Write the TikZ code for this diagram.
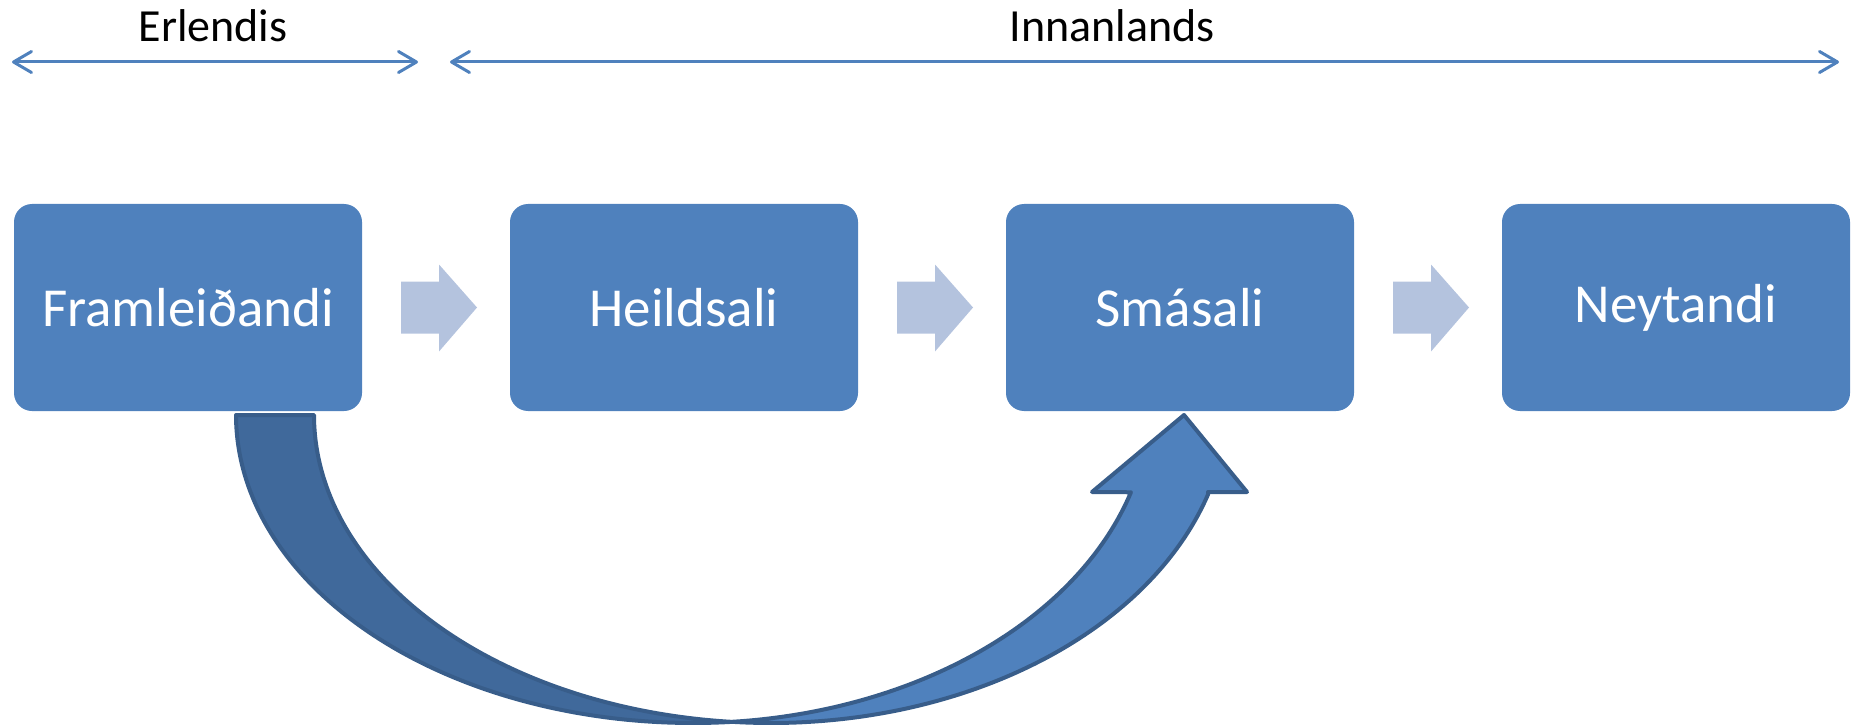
\documentclass[tikz,border=0pt]{standalone}
\usepackage{fontspec}
\setmainfont{Carlito}
\usetikzlibrary{arrows.meta,calc}
\definecolor{boxblue}{HTML}{4F81BD}
\definecolor{chevblue}{HTML}{B4C3DE}
\definecolor{darkblue}{HTML}{40699B}
\definecolor{edgeblue}{HTML}{385D8A}
\tikzset{
  stagebox/.style={rectangle, rounded corners=18pt, fill=boxblue, text=white,
    minimum width=348pt, minimum height=207pt, inner sep=0pt,
    font=\fontsize{55}{66}\selectfont},
  toplabel/.style={anchor=base, text=black, inner sep=0pt,
    font=\fontsize{46}{55}\selectfont},
  spanarrow/.style={draw=boxblue, line width=3pt,
    {Straight Barb[length=18pt,width=21pt,round]}-{Straight Barb[length=18pt,width=21pt,round]}},
  chev/.style={fill=chevblue},
  curvebody/.style={draw=edgeblue, line width=4pt, line join=round},
}
\begin{document}
\begin{tikzpicture}[x=1pt,y=-1pt]
\useasboundingbox (0,0) rectangle (1851,727);
% top span arrows and labels
\coordinate (e1) at (12,62);
\coordinate (e2) at (418,62);
\coordinate (i1) at (450,62);
\coordinate (i2) at (1839,62);
\draw[spanarrow] (e1) -- (e2);
\draw[spanarrow] (i1) -- (i2);
\node[toplabel] (erl) at (213,42) {Erlendis};
\node[toplabel] (inn) at (1112,42) {Innanlands};
% stage boxes
\node[stagebox] (b1) at (188,307.5) {Framleiðandi};
\node[stagebox] (b2) at (684,307.5) {Heildsali};
\node[stagebox] (b3) at (1180,307.5) {Smásali};
\node[stagebox] (b4) at (1676,307.5) {Neytandi};
% chevrons between boxes
\foreach \a/\b/\m in {b1/b2/m1, b2/b3/m2, b3/b4/m3}{
  \coordinate (\m) at ($(\a.east)!0.5!(\b.west)+(3,0)$);
  \fill[chev] ([shift={(-38,-26)}]\m) -- ([shift={(0,-26)}]\m) -- ([shift={(0,-43)}]\m)
    -- ([shift={(38,0)}]\m) -- ([shift={(0,44)}]\m) -- ([shift={(0,26)}]\m)
    -- ([shift={(-38,26)}]\m) -- cycle;
}
% curved up arrow: dark back band
\filldraw[curvebody, fill=darkblue]
  plot[domain=180:85.1, samples=90, smooth] ({693+457*cos(\x)},{415+308*sin(\x)})
  -- plot[domain=94.9:180, samples=90, smooth] ({771+457*cos(\x)},{415+308*sin(\x)})
  -- cycle;
% curved up arrow: front band with head
\filldraw[curvebody, fill=boxblue]
  plot[domain=85.1:16.6, samples=90, smooth] ({693+457*cos(\x)},{400+323*sin(\x)})
  -- (1092,492) -- (1184,415) -- (1247,492) -- (1208,492)
  -- plot[domain=17.0:94.9, samples=90, smooth] ({771+457*cos(\x)},{400+323*sin(\x)})
  -- cycle;
\end{tikzpicture}
\end{document}
